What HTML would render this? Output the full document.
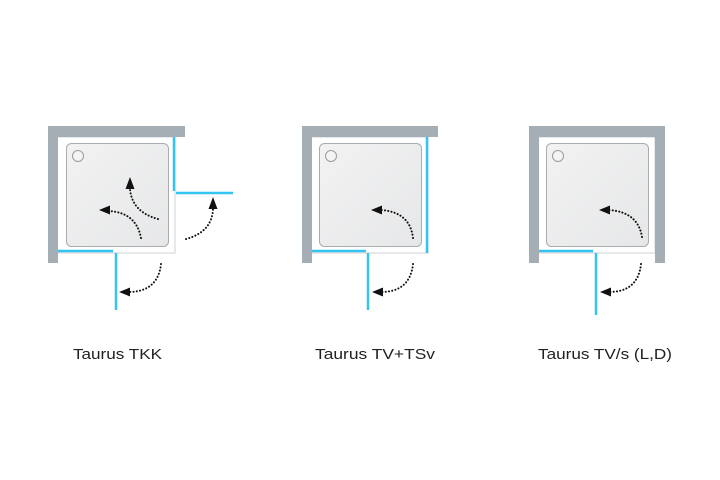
<!DOCTYPE html>
<html><head><style>
html,body{margin:0;padding:0;background:#fff;width:720px;height:480px;overflow:hidden}
</style></head><body>
<svg width="720" height="480" viewBox="0 0 720 480" xmlns="http://www.w3.org/2000/svg">
<defs>
<linearGradient id="tg" x1="0" y1="0" x2="1" y2="1">
<stop offset="0" stop-color="#f2f2f3"/><stop offset="1" stop-color="#e6e7e8"/>
</linearGradient>
</defs>
<g fill="none" stroke="#cfd1d3" stroke-width="1">
<path d="M58,137 H175 V253 H58"/>
<path d="M312,137 H428 V253 H312"/>
<path d="M539,137 H655 V253 H539"/>
</g>
<g fill="#a5aeb5">
<rect x="48" y="126" width="137" height="11"/><rect x="48" y="126" width="10" height="137"/>
<rect x="302" y="126" width="136" height="11"/><rect x="302" y="126" width="10" height="137"/>
<rect x="529" y="126" width="136" height="11"/><rect x="529" y="126" width="10" height="137"/><rect x="655" y="126" width="10" height="137"/>
</g>
<g fill="url(#tg)" stroke="#a9abad" stroke-width="1">
<rect x="66.5" y="143.5" width="102" height="103" rx="5"/>
<rect x="319.5" y="143.5" width="102" height="103" rx="5"/>
<rect x="546.5" y="143.5" width="102" height="103" rx="5"/>
</g>
<g fill="#f4f4f4" stroke="#9a9c9e" stroke-width="1">
<circle cx="78" cy="156" r="5.5"/><circle cx="331" cy="156" r="5.5"/><circle cx="558" cy="156" r="5.5"/>
</g>
<g stroke="#35c3f0" stroke-width="2.5" fill="none">
<path d="M174,137 V191"/><path d="M176,193 H233"/><path d="M58,251 H113"/><path d="M116,253 V310"/>
<path d="M427,137 V253"/><path d="M312,251 H366"/><path d="M368,253 V310"/>
<path d="M539,251 H593"/><path d="M596,253 V315"/>
</g>
<g stroke="#111" stroke-width="2" fill="none" stroke-dasharray="0.1 3.2" stroke-linecap="round">
<path d="M158,219 Q132,212 130,189"/>
<path d="M141,238 Q136,212 108,211"/>
<path d="M186,239 Q212,232 213,209"/>
<path d="M161,264 Q158,292 128,292"/>
<path d="M413,238 Q410,212 381,210"/>
<path d="M413,264 Q410,292 381,292"/>
<path d="M642,237 Q638,212 609,210"/>
<path d="M641,264 Q638,292 609,292"/>
</g>
<g fill="#111">
<polygon points="130,177 125.5,189 134.5,189"/>
<polygon points="99,210 110,205.5 110,214.5"/>
<polygon points="213,197 208.5,209 217.5,209"/>
<polygon points="119,292 130,287.5 130,296.5"/>
<polygon points="371,210 382,205.5 382,214.5"/>
<polygon points="372,292 383,287.5 383,296.5"/>
<polygon points="599,210 610,205.5 610,214.5"/>
<polygon points="600,292 611,287.5 611,296.5"/>
</g>
<g font-family="'Liberation Sans',sans-serif" font-size="15" fill="#222">
<text x="73" y="359" textLength="89" lengthAdjust="spacingAndGlyphs">Taurus TKK</text>
<text x="315" y="359" textLength="120" lengthAdjust="spacingAndGlyphs">Taurus TV+TSv</text>
<text x="538" y="359" textLength="134" lengthAdjust="spacingAndGlyphs">Taurus TV/s (L,D)</text>
</g>
</svg>
</body></html>
